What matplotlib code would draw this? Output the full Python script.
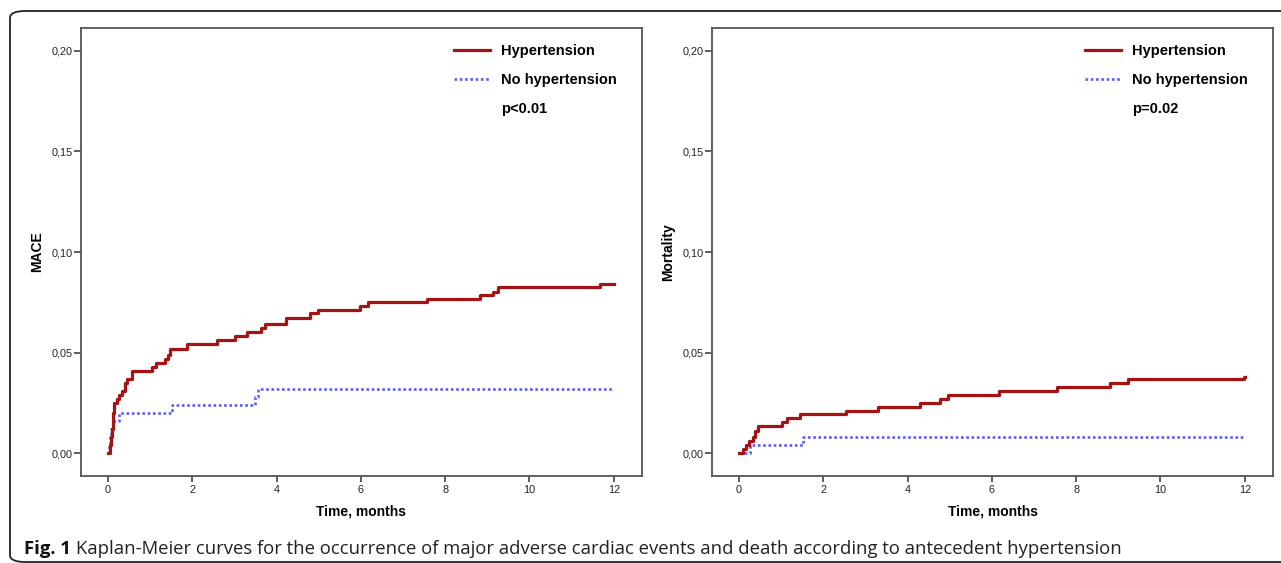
import matplotlib
matplotlib.use('Agg')
import matplotlib.pyplot as plt
from matplotlib.lines import Line2D
from matplotlib.patches import FancyBboxPatch

# ---------------- data ----------------
months_ticks = [0, 2, 4, 6, 8, 10, 12]
y_ticks = [0.00, 0.05, 0.10, 0.15, 0.20]
y_tick_labels = ['0,00', '0,05', '0,10', '0,15', '0,20']

mace_htn_t = [0, 0.05, 0.07, 0.09, 0.11, 0.13, 0.15, 0.21, 0.27, 0.34, 0.40, 0.46,
              0.56, 1.04, 1.15, 1.35, 1.43, 1.47, 1.87, 2.58, 3.01, 3.29, 3.62,
              3.72, 4.22, 4.79, 4.99, 5.98, 6.17, 7.56, 8.82, 9.14, 9.25, 11.67, 12.0]
mace_htn_v = [0, 0.004, 0.008, 0.012, 0.016, 0.020, 0.025, 0.027, 0.029, 0.031, 0.035, 0.037,
              0.041, 0.043, 0.045, 0.047, 0.049, 0.052, 0.054, 0.056, 0.058, 0.060, 0.062,
              0.064, 0.067, 0.0695, 0.071, 0.073, 0.075, 0.0766, 0.0786, 0.080, 0.0824, 0.084, 0.084]

mace_nohtn_t = [0, 0.02, 0.05, 0.08, 0.11, 0.27, 1.52, 3.50, 3.57, 12.0]
mace_nohtn_v = [0, 0.004, 0.008, 0.012, 0.016, 0.020, 0.024, 0.028, 0.032, 0.032]

mort_htn_t = [0, 0.10, 0.16, 0.24, 0.33, 0.38, 0.45, 1.01, 1.13, 1.45, 2.54, 3.31,
              4.30, 4.78, 4.97, 6.18, 7.54, 8.80, 9.23, 11.98, 12.0]
mort_htn_v = [0, 0.002, 0.004, 0.006, 0.008, 0.011, 0.0134, 0.0156, 0.0172, 0.0194, 0.021, 0.023,
              0.025, 0.027, 0.029, 0.031, 0.033, 0.035, 0.037, 0.038, 0.038]

mort_nohtn_t = [0, 0.25, 1.52, 12.0]
mort_nohtn_v = [0, 0.004, 0.008, 0.008]

series_labels = ['Hypertension', 'No hypertension']
p_labels = ['p<0.01', 'p=0.02']
y_labels = ['MACE', 'Mortality']
x_label = 'Time, months'
caption_bold = 'Fig. 1'
caption_text = ('Kaplan-Meier curves for the occurrence of major adverse cardiac events '
                'and death according to antecedent hypertension')

# ---------------- style ----------------
RED = '#a51414'
BLUE = '#5b5bff'
FRAME = '#555555'
FONT = 'Liberation Sans'

W, H = 1281, 563
fig = plt.figure(figsize=(W / 100, H / 100), dpi=100)


def fx(px):
    return px / W


def fy(py):
    return 1 - py / H


# outer rounded frame
box = FancyBboxPatch((fx(10), fy(562)), fx(1320) - fx(10), fy(11) - fy(562),
                     boxstyle='round,pad=0,rounding_size=0.012',
                     transform=fig.transFigure, fill=False, edgecolor='#222222',
                     linewidth=1.3, clip_on=False)
fig.patches.append(box)

panels = [
    (81, 642, mace_htn_t, mace_htn_v, mace_nohtn_t, mace_nohtn_v),
    (712, 1273, mort_htn_t, mort_htn_v, mort_nohtn_t, mort_nohtn_v),
]
top_px, bot_px = 28, 476

for i, (l, r, ht, hv, nt, nv) in enumerate(panels):
    ax = fig.add_axes([fx(l), fy(bot_px), fx(r) - fx(l), fy(top_px) - fy(bot_px)])
    ax.step(nt, nv, where='post', color=BLUE, lw=1.9, linestyle=(0, (1, 1)),
            solid_capstyle='butt', dash_capstyle='butt', zorder=3)
    ax.step(ht, hv, where='post', color=RED, lw=2.3, zorder=4)

    ax.set_xlim(-0.64, 12.67)
    ax.set_ylim(-0.0114, 0.2114)
    ax.set_xticks(months_ticks)
    ax.set_xticklabels([str(m) for m in months_ticks], fontfamily=FONT)
    ax.set_yticks(y_ticks)
    ax.set_yticklabels(y_tick_labels, fontfamily=FONT)
    ax.tick_params(axis='y', direction='out', length=5, width=1.1, color='#333333',
                   labelsize=7.8, pad=0.8, labelcolor='#222222')
    ax.tick_params(axis='x', direction='out', length=4, width=1.1, color='#333333',
                   labelsize=7.8, pad=2.5, labelcolor='#222222')
    for s in ax.spines.values():
        s.set_color(FRAME)
        s.set_linewidth(1.3)

    w_px = r - l
    h_px = bot_px - top_px
    ax.set_ylabel(y_labels[i], fontsize=10, fontweight='bold', fontfamily=FONT)
    ax.yaxis.set_label_coords(-37 / w_px, (bot_px - 252) / h_px)
    ax.set_xlabel(x_label, fontsize=10, fontweight='bold', fontfamily=FONT)
    ax.xaxis.set_label_coords(0.5, (bot_px - 504) / h_px)

    handles = [Line2D([], [], color=RED, lw=2.3),
               Line2D([], [], color=BLUE, lw=1.9, linestyle=(0, (1, 1))),
               Line2D([], [], color='none', lw=0)]
    ax.legend(handles, [series_labels[0], series_labels[1], p_labels[i]],
              loc='upper left',
              bbox_to_anchor=(373 / w_px, (bot_px - 44) / h_px),
              frameon=False, borderpad=0, borderaxespad=0,
              handlelength=2.45, handletextpad=0.75, labelspacing=1.03,
              prop={'family': FONT, 'weight': 'bold', 'size': 10.5})

# caption
t1 = fig.text(fx(24), fy(549), caption_bold, fontsize=13.3, fontweight='bold',
              fontfamily='Open Sans', va='center', ha='left', color='#111111')
fig.canvas.draw()
bb = t1.get_window_extent(renderer=fig.canvas.get_renderer())
fig.text(fx(bb.x1 + 5), fy(549), caption_text, fontsize=13.3,
         fontfamily='Open Sans', va='center', ha='left', color='#222222')

fig.savefig('out.png', dpi=100)
